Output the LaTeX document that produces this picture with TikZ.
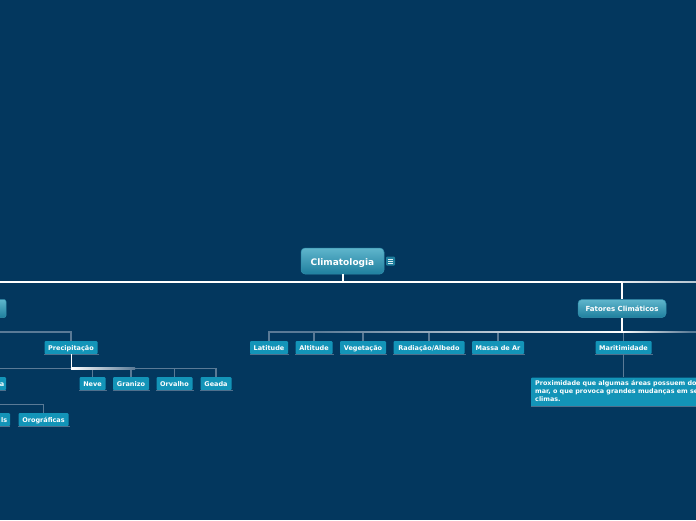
\documentclass[tikz,border=0pt]{standalone}
\usepackage{fontspec}
\setmainfont{DejaVu Sans}[BoldFont={DejaVu Sans Bold}]
\definecolor{bgc}{HTML}{03375E}
\definecolor{boxc}{HTML}{1394B8}
\definecolor{boxt}{HTML}{5FB5CC}
\definecolor{boxb}{HTML}{1F7F9E}
\definecolor{linec}{HTML}{5A7A96}
\definecolor{shadec}{HTML}{4F6F8C}
\tikzset{
  leaf/.style={fill=boxc,text=white,font=\bfseries\fontsize{6.5}{8}\selectfont,rounded corners=1pt,inner sep=0pt,anchor=center,text height=5pt,text depth=0pt},
  mainbox/.style={top color=boxt,bottom color=boxb,draw=boxb!70!boxt,line width=.5pt,text=white,rounded corners=4pt,inner sep=0pt,anchor=center},
  thin link/.style={draw=linec,line width=1.2pt},
  fat link/.style={draw=white,line width=1.6pt},
  under/.style={draw=shadec,line width=1pt}
}
\newcommand{\leafnode}[6]{% name, cx, cy, w, h, text
  \node[leaf,minimum width=#4pt,minimum height=#5pt] (#1) at (#2,#3) {#6};
  \draw[under] ([yshift=-.2pt]#1.south west) -- ([yshift=-.2pt,xshift=1pt]#1.south east);
}
\begin{document}
\begin{tikzpicture}[x=1pt,y=-1pt]
\useasboundingbox (0,0) rectangle (696,520);
\clip (0,0) rectangle (696,520);
\fill[bgc] (0,0) rectangle (696,520);
\coordinate (t0) at (0,282);
\coordinate (t1) at (696,282);
\coordinate (tj) at (343,282);
\coordinate (fj) at (622,282);
\coordinate (bj) at (622,332);
\coordinate (pj) at (71,368.5);
% main nodes
\node[mainbox,minimum width=83pt,minimum height=26pt,font=\bfseries\fontsize{9}{10}\selectfont,text height=9pt,text depth=0pt] (root) at (342.5,261) {Climatologia};
\node[mainbox,minimum width=88pt,minimum height=18pt,font=\bfseries\fontsize{7}{8}\selectfont] (fat) at (622,308.5) {Fatores Climáticos};
\node[mainbox,minimum width=12pt,minimum height=18pt,rounded corners=2pt] (elem) at (0,308.5) {};
\node[fill=boxb,rounded corners=1pt,minimum size=9pt,inner sep=0pt] (note) at (390.5,261) {};
\foreach \yy in {-2,0,2} \draw[white!85!boxc,line width=.6pt] ([xshift=-2.5pt,yshift=\yy pt]note.center) -- ([xshift=2.5pt,yshift=\yy pt]note.center);
% leaves
\leafnode{prec}{71}{347.5}{53}{13}{Precipitação}
\leafnode{neve}{92.5}{383.5}{26}{13}{Neve}
\leafnode{gran}{131}{383.5}{36}{13}{Granizo}
\leafnode{orva}{174.5}{383.5}{36}{13}{Orvalho}
\leafnode{gea}{216}{383.5}{31}{13}{Geada}
\leafnode{oro}{43.5}{419.5}{50}{13}{Orográficas}
\leafnode{lat}{269}{347.5}{38}{13}{Latitude}
\leafnode{alt}{314}{347.5}{37}{13}{Altitude}
\leafnode{veg}{363}{347.5}{46}{13}{Vegetação}
\leafnode{rad}{429}{347.5}{71}{13}{Radiação/Albedo}
\leafnode{mas}{498}{347.5}{52}{13}{Massa de Ar}
\leafnode{mar}{623.5}{347.5}{56}{13}{Maritimidade}
% clipped leaves
\node[leaf,minimum width=12pt,minimum height=13pt] (l1) at (0,383.5) {};
\node[leaf,anchor=east,fill=none] (l1t) at (4.5,383.5) {a};
\draw[under] (l1.south west) -- (l1.south east);
\node[leaf,minimum width=20pt,minimum height=13pt] (l2) at (0,419.5) {};
\node[leaf,anchor=east,fill=none] (l2t) at (7.5,419.5) {ls};
\draw[under] (l2.south west) -- (l2.south east);
% description
\node[fill=boxc,rounded corners=1pt,minimum width=172pt,minimum height=29pt,inner sep=0pt] (desc) at (617,392) {};
\draw[under] (desc.south west) -- (desc.south east);
\node[anchor=north west,text=white,font=\bfseries\fontsize{6.4}{8.3}\selectfont,align=left,inner sep=0pt] (desct) at (535,380) {Proximidade que algumas áreas possuem do\\mar, o que provoca grandes mudanças em seus\\climas.};
% links
\draw[thin link] (prec.north) -- (71,332) -- (0,332);
\draw[thin link] (pj) -- (0,368.5);
\draw[thin link] (pj) -| (neve.north);
\draw[thin link] (pj) -| (gran.north);
\draw[thin link] (pj) -| (orva.north);
\draw[thin link] (pj) -| (gea.north);
\draw[thin link] (oro.north) -- (43.5,404.5) -- (0,404.5);
\draw[thin link] (lat.north) -- (269,332) -- (bj);
\draw[thin link] (alt.north) -- (314,332);
\draw[thin link] (veg.north) -- (363,332);
\draw[thin link] (rad.north) -- (429,332);
\draw[thin link] (mas.north) -- (498,332);
\draw[thin link] (mar.north) -- (623.5,332);
\draw[thin link] (mar.south) -- (desc.north -| mar.south);
\draw[thin link] (bj) -- (696,332);
% gradients along the highlighted route
\shade[left color=linec,right color=white] (314,331.4) rectangle (622,332.6);
\shade[left color=white,right color=linec] (622,331.4) rectangle (690,332.6);
\shade[left color=white,right color=linec] (71,367.9) rectangle (135,369.1);
\draw[draw=white,line width=1pt] (prec.south) -- (pj);
\shade[left color=white!85!linec,right color=white!55!linec] (622,281.2) rectangle (696,282.8);
\draw[fat link] (t0) -- (fj);
\draw[fat link] (root.south -| tj) -- (tj);
\draw[fat link] (fj) -- (fat.north);
\draw[fat link] (fat.south) -- (bj);
\end{tikzpicture}
\end{document}
